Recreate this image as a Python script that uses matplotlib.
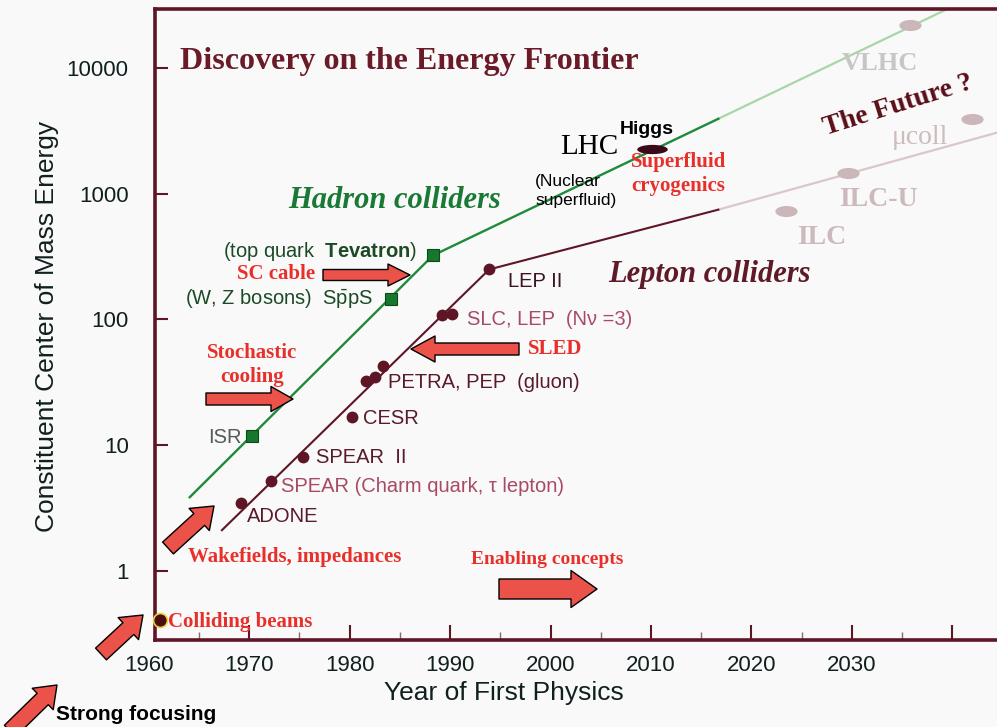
import matplotlib
matplotlib.use("Agg")
import matplotlib.pyplot as plt
from matplotlib.path import Path
from matplotlib.transforms import Affine2D

W, H = 997, 727  # output size in pixels

# ---- values ----
# hadron colliders (green squares)
hadron_names = ["ISR", "SppS", "Tevatron"]
hadron_years = [1970.3, 1984.1, 1988.3]
hadron_energy = [11.8, 146, 323]
hadron_line_years = [1964.1, 1988.3, 2016.7]
hadron_line_energy = [3.86, 323, 3945]
hadron_future_years = [2016.7, 2040.0]
hadron_future_energy = [3945, 30800]

# lepton colliders (maroon dots)
lepton_names = ["ADONE", "SPEAR", "SPEAR II", "CESR", "PETRA", "PEP", "PETRA 2",
                "SLC", "LEP", "LEP II"]
lepton_years = [1969.2, 1972.2, 1975.4, 1980.2, 1981.6, 1982.5, 1983.3, 1989.2, 1990.2, 1993.9]
lepton_energy = [3.46, 5.17, 8.0, 16.7, 32.3, 34.8, 42.5, 107.6, 109.6, 250]
lepton_line_years = [1967.3, 1993.9, 2016.7]
lepton_line_energy = [2.11, 250, 747]
lepton_future_years = [2016.7, 2044.4]
lepton_future_energy = [747, 3054]

# proposed machines (pale ellipses)
future_names = ["VLHC", "μcoll", "ILC-U", "ILC"]
future_years = [2035.8, 2041.9, 2029.6, 2023.4]
future_energy = [22000, 3950, 1468, 733]

higgs_year, higgs_energy = 2010.1, 2280
colliding_year, colliding_energy = 1961.1, 0.41

year_ticks = [1960, 1970, 1980, 1990, 2000, 2010, 2020, 2030, 2040]
year_labels = ["1960", "1970", "1980", "1990", "2000", "2010", "2020", "2030", ""]
year_minor = [1965, 1975, 1985, 1995, 2005, 2015, 2025, 2035]
energy_ticks = [1, 10, 100, 1000, 10000]
energy_labels = ["1", "10", "100", "1000", "10000"]

# ---- colours ----
BG = "#f9f9f9"
MAROON = "#5e1626"
GREEN = "#1f8a3a"
RED = "#e8302a"
ARROW = "#ea524a"
PALE_GREEN = "#a9d6a9"
PALE_PINK = "#dcc6ca"
SERIF = "Liberation Serif"

plt.rcParams["font.family"] = ["Liberation Sans", "DejaVu Sans"]
plt.rcParams["mathtext.fontset"] = "custom"
plt.rcParams["mathtext.rm"] = "Liberation Sans"
plt.rcParams["mathtext.bf"] = "Liberation Sans:bold"


def px(x, y):
    """image pixel (from top-left) -> figure fraction"""
    return x / W, 1 - y / H


fig = plt.figure(figsize=(W / 100, H / 100), dpi=100, facecolor=BG)
# axes box: left edge a bit left of the drawn spine so the "1960" label fits
ax = fig.add_axes([140 / W, 1 - 640 / H, (W - 140) / W, (640 - 9) / H])
ax.set_facecolor(BG)
ax.set_yscale("log")
x_left, x_right = 1960.65, 2044.43
ax.set_xlim(1959.15, x_right)
ax.set_ylim(10 ** -0.549, 10 ** 4.469)

for side in ["left", "bottom", "top"]:
    ax.spines[side].set_color(MAROON)
    ax.spines[side].set_linewidth(2.6)
ax.spines["right"].set_visible(False)
ax.spines["left"].set_position(("data", x_left))
ax.spines["bottom"].set_bounds(x_left, x_right)
ax.spines["top"].set_bounds(x_left, x_right)

ax.set_xticks(year_ticks, year_labels)
ax.set_xticks(year_minor, minor=True)
ax.xaxis.get_major_ticks()[0].tick1line.set_visible(False)
ax.set_yticks(energy_ticks, energy_labels)
ax.yaxis.set_minor_locator(matplotlib.ticker.NullLocator())
ax.tick_params(axis="x", which="major", direction="in", length=11, width=1.5,
               color=MAROON, labelsize=16, labelcolor="#10201e", pad=11)
ax.tick_params(axis="x", which="minor", direction="in", length=6, width=1,
               color="#8a6a70")
ax.tick_params(axis="y", direction="in", length=9, width=1.5, color=MAROON,
               labelsize=16, labelcolor="#10201e", pad=19)

ax.set_xlabel("Year of First Physics", fontsize=19, color="#10201e", va="center")
ax.xaxis.set_label_coords((504 - 140) / (W - 140), (640 - 693) / 631)
ax.set_ylabel("Constituent Center of Mass Energy", fontsize=19, color="#10201e", va="center")
ax.yaxis.set_label_coords((47 - 140) / (W - 140), (640 - 326) / 631)

# ---- trend lines ----
ax.plot(hadron_future_years, hadron_future_energy, color=PALE_GREEN, lw=1.6, zorder=2)
ax.plot(lepton_future_years, lepton_future_energy, color=PALE_PINK, lw=1.6, zorder=2)
ax.plot(hadron_line_years, hadron_line_energy, color=GREEN, lw=1.7, zorder=3)
ax.plot(lepton_line_years, lepton_line_energy, color=MAROON, lw=1.5, zorder=3)

# ---- machines ----
ax.plot(hadron_years, hadron_energy, "s", ms=8.5, color="#17772e", mec="#0c4a1a",
        mew=0.8, zorder=4)
ax.plot(lepton_years, lepton_energy, "o", ms=7.5, color=MAROON, zorder=4)

ellipse = Path.unit_circle().transformed(Affine2D().scale(2, 1))
ax.plot(future_years, future_energy, ls="none", marker=ellipse, ms=16,
        color="#cbb7ba", mew=0, zorder=4, clip_on=False)
higgs_marker = Path.unit_circle().transformed(Affine2D().scale(3.3, 1))
ax.plot([higgs_year], [higgs_energy], ls="none", marker=higgs_marker, ms=22,
        color="#3a0a18", mew=0, zorder=5)
ax.plot([colliding_year], [colliding_energy], "o", ms=10, color="#4a0e0e",
        mec="#e8d43a", mew=1.2, zorder=5, clip_on=False)

# ---- machine labels ----
lepton_labels = [
    (0, "ADONE", "#5a1a2a", 6, -13),
    (1, "SPEAR (Charm quark, τ lepton)", "#a84a64", 10, -5),
    (2, "SPEAR  II", "#5a1a2a", 13, 0),
    (3, "CESR", "#5a1a2a", 11, -1),
    (4, "PETRA, PEP  (gluon)", "#5a1a2a", 22, -1),
    (8, "SLC, LEP  (Nν =3)", "#a84a64", 15, -5),
    (9, "LEP II", "#3a1420", 19, -12),
]
for i, text, color, dx, dy in lepton_labels:
    ax.annotate(text, (lepton_years[i], lepton_energy[i]), xytext=(dx, dy),
                textcoords="offset pixels", ha="left", va="center",
                fontsize=14.5, color=color)

hadron_labels = [
    (0, "ISR", "#525a5a", -10, -1),
    (1, r"(W, Z bosons)  S$\bar{\rm p}$pS", "#1c4a26", -18, 0),
    (2, r"(top quark  $\bf{Tevatron}$)", "#1c4a26", -16, 4),
]
for i, text, color, dx, dy in hadron_labels:
    ax.annotate(text, (hadron_years[i], hadron_energy[i]), xytext=(dx, dy),
                textcoords="offset pixels", ha="right", va="center",
                fontsize=14.5, color=color)

# ---- free text ----
fig.text(*px(180, 62), "Discovery on the Energy Frontier", family=SERIF,
         weight="bold", fontsize=23, color="#6b1a28", va="center")
fig.text(*px(288, 200), "Hadron colliders", family=SERIF, weight="bold",
         style="italic", fontsize=22, color="#1a7a35", va="center")
fig.text(*px(608, 274), "Lepton colliders", family=SERIF, weight="bold",
         style="italic", fontsize=22, color="#5e1a26", va="center")
fig.text(*px(560, 147), "LHC", family=SERIF, fontsize=21, color="black", va="center")
fig.text(*px(620, 129), "Higgs", weight="bold", fontsize=14, color="black", va="center")
fig.text(*px(535, 191), "(Nuclear\nsuperfluid)", fontsize=12.5, color="black",
         va="center", linespacing=1.4)
fig.text(*px(631, 174), "Superfluid\ncryogenics", family=SERIF, weight="bold",
         fontsize=15, color=RED, va="center", linespacing=1.2)
fig.text(*px(898, 105), "The Future ?", family=SERIF, weight="bold", fontsize=20,
         color="#5a0f18", rotation=17.5, ha="center", va="center",
         rotation_mode="anchor")
fig.text(*px(880, 63), "VLHC", family=SERIF, weight="bold", fontsize=19,
         color="#c6c6c6", ha="center", va="center")
fig.text(*px(920, 137), "μcoll", family=SERIF, fontsize=20, color="#cdbcbe",
         ha="center", va="center")
fig.text(*px(878, 200), "ILC-U", family=SERIF, weight="bold", fontsize=20,
         color="#cdb8bb", ha="center", va="center")
fig.text(*px(822, 238), "ILC", family=SERIF, weight="bold", fontsize=20,
         color="#cdb8bb", ha="center", va="center")

red_notes = [
    (276, 274, "SC cable", "center", 15),
    (252, 365, "Stochastic\ncooling", "center", 15),
    (555, 349, "SLED", "center", 15),
    (188, 557, "Wakefields, impedances", "left", 15),
    (471, 560, "Enabling concepts", "left", 14),
    (168, 622, "Colliding beams", "left", 15),
]
for x, y, text, ha, size in red_notes:
    fig.text(*px(x, y), text, family=SERIF, weight="bold", fontsize=size,
             color=RED, ha=ha, va="center", linespacing=1.25)
fig.text(*px(56, 715), "Strong focusing", weight="bold", fontsize=15,
         color="black", va="center")


# ---- red block arrows (image pixels: tail -> head, widths in px) ----
def block_arrow(x0, y0, x1, y1, tail, head, head_len):
    k = 72 / 100  # px -> pt
    style = f"simple,head_length={head_len * k},head_width={head * k},tail_width={tail * k}"
    ax.annotate("", xy=(x1, H - y1), xytext=(x0, H - y0),
                xycoords="figure pixels", textcoords="figure pixels",
                annotation_clip=False,
                arrowprops=dict(arrowstyle=style, mutation_scale=1, fc=ARROW,
                                ec="black", lw=1, shrinkA=0, shrinkB=0))


block_arrow(323, 275, 410, 275, 11, 22, 22)
block_arrow(206, 399, 293, 399, 12, 25, 22)
block_arrow(519, 349, 411, 349, 12, 26, 24)
block_arrow(499, 589, 597, 589, 20, 37, 26)
block_arrow(168, 548, 214, 506, 16, 30, 20)
block_arrow(101, 654, 143, 615, 16, 30, 20)
block_arrow(10, 731, 57, 685, 16, 30, 20)

fig.savefig("out.png", dpi=100, facecolor=BG)
